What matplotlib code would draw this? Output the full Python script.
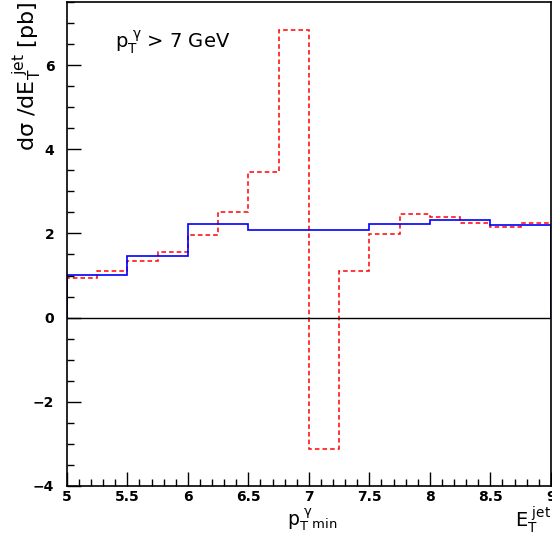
import numpy as np
import matplotlib
matplotlib.use("Agg")
import matplotlib.pyplot as plt
from matplotlib.ticker import MultipleLocator, FuncFormatter

plt.rcParams['font.family'] = ['DejaVu Sans']
plt.rcParams['mathtext.default'] = 'regular'

# blue histogram (0.5 GeV bins)
blue_edges = [5.0, 5.5, 6.0, 6.5, 7.0, 7.5, 8.0, 8.5, 9.0]
blue_vals = [1.01, 1.46, 2.23, 2.08, 2.08, 2.23, 2.33, 2.20]

# red dashed histogram (0.25 GeV bins)
red_edges = [5.0, 5.25, 5.5, 5.75, 6.0, 6.25, 6.5, 6.75, 7.0,
             7.25, 7.5, 7.75, 8.0, 8.25, 8.5, 8.75, 9.0]
red_vals = [0.94, 1.11, 1.35, 1.57, 1.97, 2.50, 3.46, 6.84,
            -3.13, 1.11, 1.98, 2.47, 2.40, 2.25, 2.15, 2.24]

fig = plt.figure(figsize=(5.52, 5.35), dpi=100)
ax = fig.add_axes([0.121, 0.092, 0.877, 0.904])

ax.axhline(0, color='black', lw=1.0)
ax.stairs(red_vals, red_edges, baseline=0, color='red', lw=1.1, ls=(0, (3, 2)))
ax.stairs(blue_vals, blue_edges, baseline=0, color='blue', lw=1.2)

ax.set_xlim(5, 9)
ax.set_ylim(-4, 7.5)
ax.xaxis.set_major_locator(MultipleLocator(0.5))
ax.xaxis.set_minor_locator(MultipleLocator(0.1))
ax.yaxis.set_major_locator(MultipleLocator(2))
ax.yaxis.set_minor_locator(MultipleLocator(0.5))
ax.xaxis.set_major_formatter(FuncFormatter(lambda v, p: ('%g' % v)))
ax.yaxis.set_major_formatter(FuncFormatter(lambda v, p: ('%g' % v).replace('-', '\u2212')))
ax.tick_params(which='both', direction='in', top=False, right=False, width=1)
ax.tick_params(which='major', length=10, labelsize=10)
ax.tick_params(axis='y', which='major', pad=9)
ax.tick_params(axis='x', which='major', pad=3)
ax.tick_params(which='minor', length=5)
for lab in ax.get_xticklabels() + ax.get_yticklabels():
    lab.set_fontweight('bold')
for s in ax.spines.values():
    s.set_linewidth(1.2)

ax.text(0.1, 0.905, r'$p_T^{\ \gamma}$ > 7 GeV', transform=ax.transAxes, fontsize=14)
fig.text(0.05, 0.998, r'd$\sigma$ /dE$_T^{\ jet}$ [pb]', rotation=90, ha='center', va='top', fontsize=16)
fig.text(0.565, 0.004, r'$p_T^{\ \gamma}{}_{min}$', ha='center', va='bottom', fontsize=13.5)
fig.text(0.999, 0.0, r'$E_T^{\ jet}$', ha='right', va='bottom', fontsize=14)

fig.savefig('out.png', dpi=100)
